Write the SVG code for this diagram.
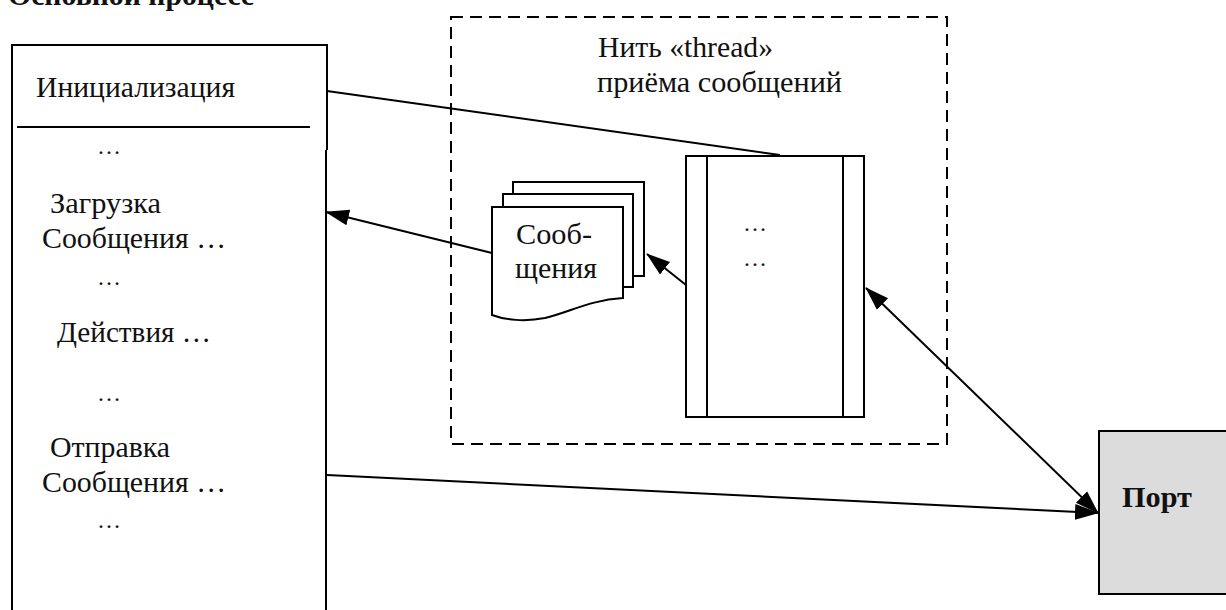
<svg xmlns="http://www.w3.org/2000/svg" width="1226" height="610" viewBox="0 0 1226 610" font-family="'Liberation Serif', 'DejaVu Serif', serif">
<style>
text{font-family:'Liberation Serif','DejaVu Serif',serif;font-size:30px;fill:#111}
.b{font-weight:bold}
.ln{fill:none;stroke:#000;stroke-width:2}
.dash{fill:none;stroke:#000;stroke-width:2;stroke-dasharray:12 7}
.doc{fill:#fff;stroke:#000;stroke-width:2}
.dots{font-size:24px}
</style>
<defs>
<marker id="ah" markerUnits="userSpaceOnUse" markerWidth="24" markerHeight="20" viewBox="0 0 24 20" refX="23" refY="10" orient="auto-start-reverse">
<path d="M0,2 L24,10 L0,18 Z" fill="#000"/>
</marker>
</defs>
<rect width="1226" height="610" fill="#fff"/>
<text class="b" x="8" y="5" textLength="246" lengthAdjust="spacingAndGlyphs">Основной процесс</text>

<g id="main-process">
<path class="ln" d="M12,610 V45 H327 V150 M326,150 V610"/>
<line class="ln" x1="17" y1="127" x2="310" y2="127" stroke-width="1.5"/>
<text x="36" y="97" textLength="199" lengthAdjust="spacingAndGlyphs">Инициализация</text>
<text class="dots" x="97" y="154">…</text>
<text x="50" y="213" textLength="111" lengthAdjust="spacingAndGlyphs">Загрузка</text>
<text x="42" y="248" textLength="184" lengthAdjust="spacingAndGlyphs">Сообщения …</text>
<text class="dots" x="97" y="285">…</text>
<text x="57" y="342" textLength="154" lengthAdjust="spacingAndGlyphs">Действия …</text>
<text class="dots" x="97" y="401">…</text>
<text x="50" y="457" textLength="120" lengthAdjust="spacingAndGlyphs">Отправка</text>
<text x="42" y="492" textLength="184" lengthAdjust="spacingAndGlyphs">Сообщения …</text>
<text class="dots" x="97" y="528">…</text>
</g>

<g id="thread-area">
<rect class="dash" x="451" y="17" width="496" height="427"/>
<text x="598" y="57" textLength="175" lengthAdjust="spacingAndGlyphs">Нить «thread»</text>
<text x="597" y="92" textLength="245" lengthAdjust="spacingAndGlyphs">приёма сообщений</text>
</g>

<g id="thread-block">
<rect class="doc" x="686" y="156" width="178" height="261"/>
<line class="ln" x1="707" y1="156" x2="707" y2="417"/>
<line class="ln" x1="843" y1="156" x2="843" y2="417"/>
<text class="dots" x="743" y="231">…</text>
<text class="dots" x="743" y="266">…</text>
</g>

<g id="messages">
<rect class="doc" x="513" y="182" width="131" height="94"/>
<rect class="doc" x="503" y="194" width="130" height="93"/>
<path class="doc" d="M492,207 H623 V298 C590,300 570,312 545,318 C525,322 505,320 492,315 Z"/>
<text x="516" y="244" textLength="76" lengthAdjust="spacingAndGlyphs">Сооб-</text>
<text x="515" y="278" textLength="82" lengthAdjust="spacingAndGlyphs">щения</text>
</g>

<g id="port">
<rect x="1099" y="431" width="140" height="163" fill="#dcdcdc" stroke="#000" stroke-width="2"/>
<text class="b" x="1122" y="507" textLength="70" lengthAdjust="spacingAndGlyphs">Порт</text>
</g>

<g id="connectors">
<line class="ln" x1="327" y1="91" x2="780" y2="155"/>
<line class="ln" x1="492" y1="253" x2="326" y2="212" marker-end="url(#ah)"/>
<line class="ln" x1="686" y1="285" x2="647" y2="254" marker-end="url(#ah)"/>
<line class="ln" x1="866" y1="288" x2="1098" y2="513" marker-start="url(#ah)" marker-end="url(#ah)"/>
<line class="ln" x1="327" y1="475" x2="1098" y2="513" marker-end="url(#ah)"/>
</g>
</svg>
